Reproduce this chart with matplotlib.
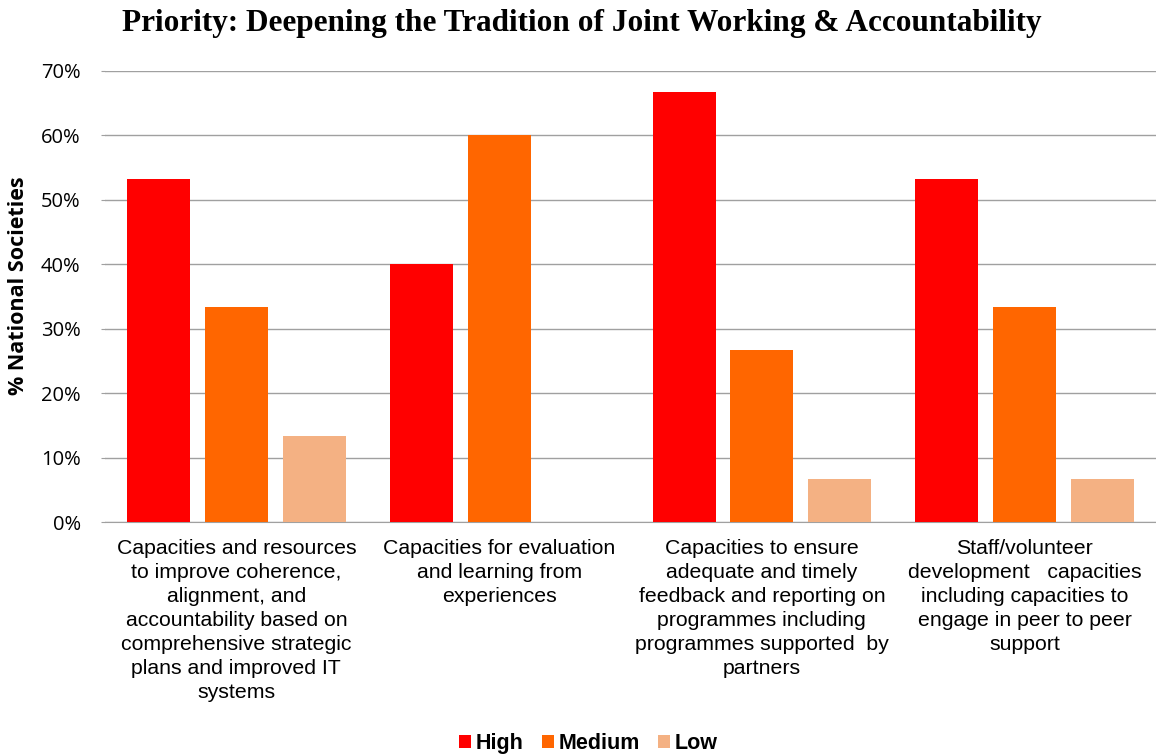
import numpy as np
import matplotlib.pyplot as plt
from matplotlib.ticker import PercentFormatter

# priority areas (x-axis categories)
categories = [
    "Capacities and resources\nto improve coherence,\nalignment, and\naccountability based on\ncomprehensive strategic\nplans and improved IT\nsystems",
    "Capacities for evaluation\nand learning from\nexperiences",
    "Capacities to ensure\nadequate and timely\nfeedback and reporting on\nprogrammes including\nprogrammes supported  by\npartners",
    "Staff/volunteer\ndevelopment   capacities\nincluding capacities to\nengage in peer to peer\nsupport",
]
series_names = ["High", "Medium", "Low"]
high = [53.3, 40.0, 66.7, 53.3]
medium = [33.3, 60.0, 26.7, 33.3]
low = [13.3, 0.0, 6.7, 6.7]
colors = ["#FF0000", "#FF6600", "#F4B183"]

fig = plt.figure(figsize=(11.56, 7.55), dpi=100)
ax = fig.add_axes([0.0908, 0.3086, 0.9092, 0.5974])

x = np.arange(len(categories))
width = 0.24
step = 0.296
for i, (vals, name, c) in enumerate(zip([high, medium, low], series_names, colors)):
    ax.bar(x + (i - 1) * step, vals, width, color=c, label=name, zorder=3)

ax.set_xlim(-0.5, len(categories) - 0.5)
ax.set_ylim(0, 70)
ax.set_yticks(np.arange(0, 71, 10))
ax.yaxis.set_major_formatter(PercentFormatter(decimals=0))
ax.grid(axis="y", color="#A0A0A0", linewidth=1, zorder=0)

for s in ["top", "right", "left"]:
    ax.spines[s].set_visible(False)
ax.spines["bottom"].set_color("#A0A0A0")

ax.tick_params(axis="y", length=3, color="#A0A0A0", labelsize=14.5, pad=14.5)
for lbl in ax.get_yticklabels():
    lbl.set_fontfamily("Open Sans")
ax.set_xticks(x)
ax.set_xticklabels(categories, fontsize=15.3, fontfamily="Liberation Sans",
                   linespacing=1.34, va="top")
ax.tick_params(axis="x", length=0, pad=12)

ax.set_ylabel("% National Societies", fontsize=15.5, fontweight="bold",
              fontfamily="Open Sans")
ax.yaxis.set_label_coords(-0.072, 0.525)

fig.suptitle("Priority: Deepening the Tradition of Joint Working & Accountability",
             x=0.503, y=0.988, fontsize=22.5, fontweight="bold",
             fontfamily="Liberation Serif")

fig.legend(loc="lower center", bbox_to_anchor=(0.509, -0.024), ncol=3,
           frameon=False, handlelength=0.56, handleheight=0.56,
           handletextpad=0.2, columnspacing=0.85,
           prop={"family": "Liberation Sans", "weight": "bold", "size": 15.5})

fig.savefig("out.png", dpi=100)
